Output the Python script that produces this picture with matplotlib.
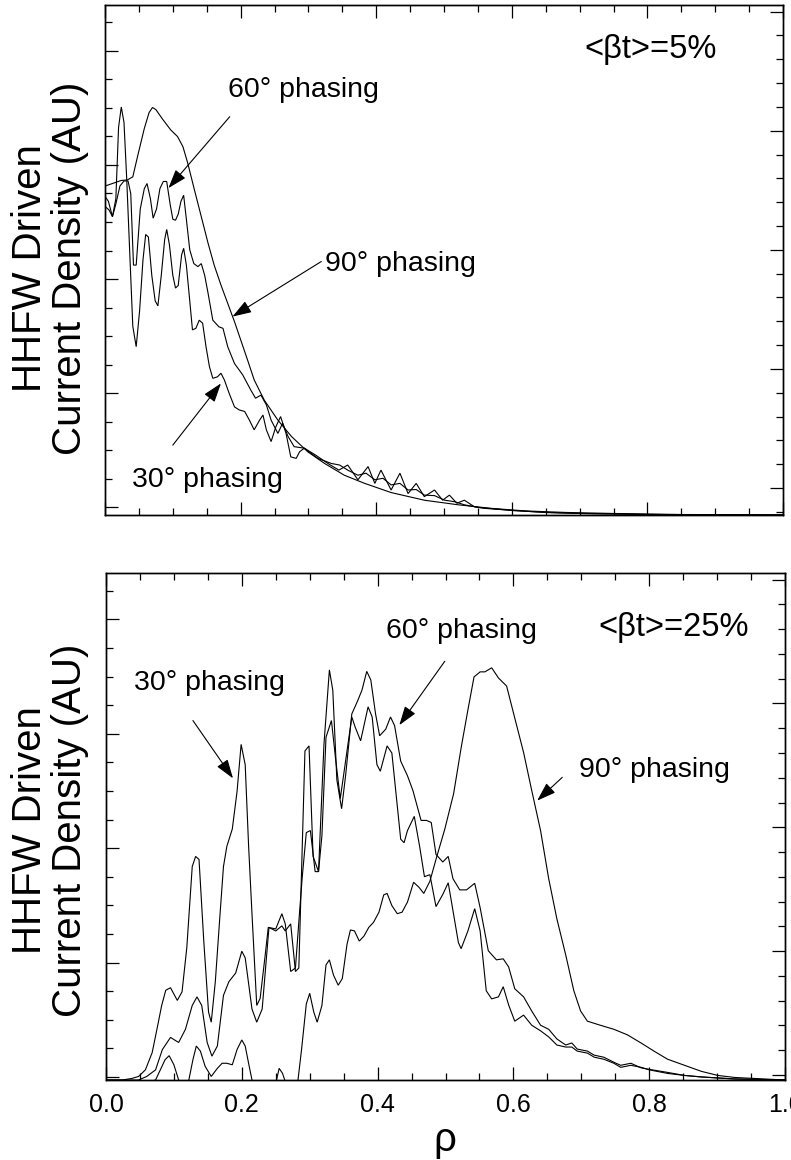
import matplotlib
matplotlib.use('Agg')
import matplotlib.pyplot as plt
import numpy as np

plt.rcParams['font.family'] = ['Liberation Sans', 'DejaVu Sans']

# ---------------- data (arbitrary units) ----------------
# Top panel  <beta_t> = 5%
top_rho_90 = [0.0, 0.011, 0.024, 0.033, 0.041, 0.048, 0.058, 0.065, 0.070, 0.075, 0.085, 0.097, 0.107, 0.115,
              0.122, 0.132, 0.142, 0.152, 0.161, 0.171, 0.181, 0.191, 0.201, 0.211, 0.220, 0.235, 0.255, 0.275,
              0.299, 0.324, 0.353, 0.383, 0.422, 0.471, 0.521, 0.570, 0.62, 0.68, 0.75, 0.85, 1.0]
top_j_90 = [0.645, 0.65, 0.656, 0.657, 0.663, 0.703, 0.758, 0.789, 0.799, 0.795, 0.776, 0.755, 0.742, 0.722,
            0.69, 0.637, 0.585, 0.533, 0.49, 0.451, 0.415, 0.379, 0.34, 0.301, 0.265, 0.225, 0.186, 0.154,
            0.124, 0.101, 0.078, 0.062, 0.044, 0.029, 0.02, 0.013, 0.008, 0.005, 0.003, 0.001, 0.0]

top_rho_60 = [0.0, 0.005, 0.011, 0.016, 0.022, 0.028, 0.034, 0.038, 0.042, 0.046,
              0.052, 0.058, 0.062, 0.067, 0.071, 0.076, 0.081, 0.086, 0.091, 0.096,
              0.100, 0.104, 0.108, 0.112, 0.116, 0.120, 0.125, 0.131, 0.137, 0.142,
              0.147, 0.152, 0.159, 0.168, 0.174, 0.181, 0.191, 0.203, 0.215, 0.222,
              0.230, 0.238, 0.245, 0.255, 0.262, 0.270, 0.279, 0.294, 0.314, 0.334,
              0.346, 0.358, 0.373, 0.385, 0.398, 0.410, 0.422, 0.435, 0.447, 0.459,
              0.471, 0.486, 0.501, 0.516, 0.530, 0.550, 0.60, 0.65, 0.70, 0.80, 1.0]
top_j_60 = [0.625, 0.615, 0.585, 0.61, 0.645, 0.655, 0.655, 0.63, 0.49, 0.49,
            0.60, 0.64, 0.65, 0.62, 0.582, 0.60, 0.64, 0.654, 0.654, 0.61,
            0.58, 0.578, 0.59, 0.615, 0.627, 0.58, 0.52, 0.493, 0.487, 0.493,
            0.47, 0.435, 0.382, 0.369, 0.366, 0.33, 0.297, 0.275, 0.245, 0.229,
            0.235, 0.216, 0.186, 0.16, 0.18, 0.154, 0.134, 0.131, 0.111, 0.101,
            0.098, 0.088, 0.078, 0.082, 0.069, 0.072, 0.059, 0.062, 0.049, 0.05,
            0.039, 0.038, 0.029, 0.026, 0.02, 0.015, 0.009, 0.005, 0.003, 0.001, 0.0]

top_rho_30 = [0.0, 0.006, 0.011, 0.016, 0.020, 0.024, 0.028, 0.032, 0.036, 0.041,
              0.046, 0.051, 0.056, 0.060, 0.064, 0.069, 0.074, 0.078, 0.083, 0.088,
              0.091, 0.095, 0.100, 0.104, 0.108, 0.113, 0.116, 0.120, 0.125, 0.129,
              0.134, 0.139, 0.144, 0.149, 0.154, 0.159, 0.166, 0.171, 0.176, 0.183,
              0.191, 0.198, 0.206, 0.213, 0.220, 0.228, 0.233, 0.238, 0.245, 0.252,
              0.259, 0.267, 0.274, 0.282, 0.287, 0.294, 0.310, 0.330, 0.345, 0.358,
              0.373, 0.388, 0.398, 0.407, 0.422, 0.435, 0.447, 0.459, 0.471, 0.486,
              0.498, 0.508, 0.519, 0.530, 0.545, 0.56, 0.60, 0.65, 0.70, 0.80, 1.0]
top_j_30 = [0.605, 0.598, 0.585, 0.62, 0.76, 0.80, 0.77, 0.66, 0.53, 0.37,
            0.33, 0.40, 0.50, 0.55, 0.545, 0.47, 0.42, 0.41, 0.47, 0.54,
            0.56, 0.53, 0.47, 0.445, 0.45, 0.51, 0.523, 0.49, 0.42, 0.363,
            0.366, 0.382, 0.376, 0.33, 0.291, 0.268, 0.271, 0.278, 0.265, 0.239,
            0.212, 0.206, 0.203, 0.186, 0.167, 0.186, 0.196, 0.167, 0.144, 0.173,
            0.193, 0.16, 0.114, 0.111, 0.124, 0.131, 0.118, 0.100, 0.088, 0.098,
            0.069, 0.095, 0.062, 0.088, 0.049, 0.082, 0.042, 0.062, 0.036, 0.049,
            0.029, 0.039, 0.023, 0.029, 0.016, 0.013, 0.009, 0.005, 0.003, 0.001, 0.0]

# Bottom panel  <beta_t> = 25%
bot_rho_90 = [0.0, 0.05, 0.073, 0.080, 0.087, 0.093, 0.100, 0.107, 0.114, 0.122,
              0.128, 0.133, 0.139, 0.146, 0.155, 0.164, 0.171, 0.178, 0.186, 0.193,
              0.200, 0.205, 0.210, 0.215, 0.222, 0.240, 0.250, 0.255, 0.260, 0.265,
              0.274, 0.281, 0.288, 0.295, 0.300, 0.306, 0.311, 0.318, 0.324, 0.329,
              0.335, 0.342, 0.348, 0.355, 0.360, 0.366, 0.373, 0.380, 0.387, 0.394,
              0.402, 0.409, 0.414, 0.421, 0.429, 0.436, 0.444, 0.453, 0.461, 0.468,
              0.477, 0.487, 0.499, 0.512, 0.523, 0.533, 0.542, 0.551, 0.558, 0.568,
              0.578, 0.590, 0.602, 0.615, 0.627, 0.640, 0.652, 0.664, 0.677, 0.689,
              0.699, 0.709, 0.728, 0.748, 0.768, 0.788, 0.807, 0.827, 0.852, 0.877,
              0.901, 0.926, 1.0]
bot_j_90 = [-0.03, -0.01, 0.0, 0.02, 0.04, 0.048, 0.03, 0.0, -0.02, 0.0,
            0.04, 0.067, 0.057, 0.027, 0.007, 0.023, 0.033, 0.033, 0.03, 0.06,
            0.079, 0.067, 0.033, 0.0, -0.033, -0.03, -0.007, 0.023, 0.013, -0.007,
            -0.04, -0.02, 0.06, 0.15, 0.171, 0.134, 0.114, 0.147, 0.227, 0.237,
            0.207, 0.187, 0.2, 0.268, 0.296, 0.294, 0.274, 0.284, 0.301, 0.311,
            0.331, 0.365, 0.368, 0.344, 0.328, 0.331, 0.351, 0.39, 0.38, 0.368,
            0.392, 0.44, 0.495, 0.565, 0.655, 0.73, 0.795, 0.805, 0.805, 0.813,
            0.793, 0.777, 0.714, 0.646, 0.571, 0.492, 0.397, 0.318, 0.247, 0.176,
            0.136, 0.116, 0.108, 0.100, 0.089, 0.073, 0.057, 0.041, 0.029, 0.017,
            0.009, 0.005, 0.0]

bot_rho_60 = [0.0, 0.030, 0.048, 0.060, 0.073, 0.083, 0.095, 0.107, 0.117, 0.127,
              0.134, 0.141, 0.149, 0.156, 0.164, 0.173, 0.181, 0.191, 0.200, 0.205,
              0.215, 0.222, 0.230, 0.240, 0.250, 0.259, 0.264, 0.272, 0.279, 0.284,
              0.293, 0.299, 0.305, 0.313, 0.321, 0.329, 0.334, 0.340, 0.347, 0.353,
              0.362, 0.370, 0.377, 0.384, 0.390, 0.397, 0.403, 0.412, 0.419, 0.425,
              0.434, 0.444, 0.452, 0.464, 0.472, 0.479, 0.486, 0.496, 0.504, 0.511,
              0.521, 0.531, 0.543, 0.551, 0.563, 0.575, 0.585, 0.593, 0.602, 0.615,
              0.627, 0.640, 0.652, 0.664, 0.677, 0.686, 0.694, 0.709, 0.719, 0.733,
              0.748, 0.758, 0.773, 0.788, 0.800, 0.827, 0.852, 0.877, 0.926, 1.0]
bot_j_60 = [0.0, 0.0, 0.0, 0.007, 0.02, 0.06, 0.084, 0.074, 0.10, 0.147,
            0.164, 0.147, 0.074, 0.047, 0.067, 0.167, 0.194, 0.211, 0.254, 0.241,
            0.14, 0.114, 0.14, 0.301, 0.294, 0.304, 0.294, 0.308, 0.214, 0.221,
            0.649, 0.659, 0.441, 0.411, 0.662, 0.809, 0.769, 0.592, 0.535, 0.602,
            0.722, 0.746, 0.769, 0.806, 0.789, 0.722, 0.679, 0.692, 0.716, 0.699,
            0.629, 0.60, 0.571, 0.512, 0.512, 0.508, 0.445, 0.43, 0.441, 0.397,
            0.375, 0.375, 0.388, 0.34, 0.255, 0.237, 0.239, 0.223, 0.18, 0.164,
            0.136, 0.108, 0.10, 0.081, 0.069, 0.073, 0.061, 0.057, 0.049, 0.045,
            0.035, 0.029, 0.033, 0.024, 0.021, 0.015, 0.009, 0.006, 0.002, 0.0]

bot_rho_30 = [0.0, 0.024, 0.038, 0.048, 0.058, 0.068, 0.075, 0.082, 0.088, 0.095,
              0.105, 0.112, 0.119, 0.127, 0.132, 0.137, 0.144, 0.151, 0.155, 0.161,
              0.168, 0.173, 0.178, 0.186, 0.193, 0.199, 0.205, 0.210, 0.215, 0.222,
              0.227, 0.234, 0.239, 0.250, 0.259, 0.264, 0.272, 0.279, 0.285, 0.289,
              0.295, 0.301, 0.308, 0.313, 0.318, 0.324, 0.332, 0.338, 0.345, 0.350,
              0.362, 0.367, 0.375, 0.386, 0.392, 0.399, 0.404, 0.414, 0.421, 0.434,
              0.439, 0.444, 0.454, 0.462, 0.469, 0.477, 0.486, 0.496, 0.504, 0.511,
              0.519, 0.523, 0.533, 0.543, 0.551, 0.560, 0.568, 0.578, 0.585, 0.593,
              0.602, 0.615, 0.627, 0.640, 0.652, 0.664, 0.677, 0.686, 0.694, 0.709,
              0.719, 0.733, 0.748, 0.758, 0.773, 0.788, 0.800, 0.827, 0.852, 0.877,
              0.926, 1.0]
bot_j_30 = [0.0, 0.0, 0.003, 0.007, 0.02, 0.054, 0.10, 0.147, 0.177, 0.182,
            0.157, 0.174, 0.261, 0.421, 0.441, 0.435, 0.274, 0.134, 0.114, 0.194,
            0.328, 0.421, 0.461, 0.495, 0.569, 0.662, 0.622, 0.462, 0.328, 0.147,
            0.161, 0.241, 0.301, 0.298, 0.328, 0.308, 0.214, 0.221, 0.33, 0.40,
            0.488, 0.492, 0.411, 0.411, 0.482, 0.676, 0.709, 0.635, 0.555, 0.602,
            0.716, 0.696, 0.669, 0.736, 0.716, 0.622, 0.609, 0.659, 0.645, 0.475,
            0.468, 0.492, 0.52, 0.46, 0.401, 0.405, 0.342, 0.366, 0.389, 0.334,
            0.271, 0.259, 0.294, 0.338, 0.294, 0.176, 0.16, 0.164, 0.184, 0.148,
            0.116, 0.128, 0.108, 0.097, 0.085, 0.069, 0.065, 0.065, 0.057, 0.053,
            0.045, 0.041, 0.033, 0.025, 0.029, 0.025, 0.02, 0.013, 0.009, 0.006,
            0.002, 0.0]

x_tick_values = [0.0, 0.2, 0.4, 0.6, 0.8, 1.0]
x_tick_labels = ['0.0', '0.2', '0.4', '0.6', '0.8', '1.0']
ylabel_text = 'HHFW Driven\nCurrent Density (AU)'
top_beta_label = '<βt>=5%'
bot_beta_label = '<βt>=25%'

# ---------------- figure ----------------
W, H = 791, 1160
fig = plt.figure(figsize=(W / 100, H / 100), dpi=100)
ax_top = fig.add_axes([105 / W, 1 - 515 / H, 678 / W, 510 / H])
ax_bot = fig.add_axes([106 / W, 1 - 1080 / H, 679 / W, 507 / H])

LW = 0.8
for ax, curves in ((ax_top, [(top_rho_90, top_j_90), (top_rho_60, top_j_60), (top_rho_30, top_j_30)]),
                   (ax_bot, [(bot_rho_90, bot_j_90), (bot_rho_60, bot_j_60), (bot_rho_30, bot_j_30)])):
    for r, j in curves:
        ax.plot(r, j, color='black', lw=LW, solid_joinstyle='miter')
    ax.set_xlim(0, 1)
    ax.set_ylim(0, 1)
    for s in ax.spines.values():
        s.set_linewidth(1.0)
        s.set_color('black')


def set_ticks(ax, lmaj0, lstep, lmin_n, rmaj0, rstep, rmin_n, show_labels):
    ax.set_xticks(x_tick_values)
    ax.set_xticks(np.arange(0, 1.0001, 0.05), minor=True)
    if show_labels:
        ax.set_xticklabels(x_tick_labels)
    else:
        ax.set_xticklabels([])
    lmin = [lmaj0 + lstep * k for k in range(lmin_n)]
    lmaj = [v for k, v in enumerate(lmin) if k % 4 == 0]
    ax.set_yticks(lmaj)
    ax.set_yticks([v for k, v in enumerate(lmin) if k % 4 != 0], minor=True)
    ax.set_yticklabels([])
    ax.tick_params(which='both', direction='in', top=True, bottom=True, left=True, right=False,
                   width=0.9, color='black', labelsize=18, pad=9)
    ax.tick_params(which='major', length=9.5)
    ax.tick_params(which='minor', length=5)
    ax2 = ax.twinx()
    ax2.set_ylim(0, 1)
    rmin = [rmaj0 + rstep * k for k in range(-1, rmin_n)]
    rmin = [v for v in rmin if 0 < v < 1]
    rmaj = [rmaj0 + rstep * 5 * k for k in range(5)]
    ax2.set_yticks(rmaj)
    ax2.set_yticks([v for v in rmin if min(abs(v - m) for m in rmaj) > 1e-3], minor=True)
    ax2.set_yticklabels([])
    ax2.tick_params(which='both', direction='in', right=True, left=False, width=0.9, color='black')
    ax2.tick_params(which='major', length=9.5)
    ax2.tick_params(which='minor', length=5)
    for s in ax2.spines.values():
        s.set_linewidth(1.0)


set_ticks(ax_top, 0.0155, 0.0559, 18, 0.053, 0.0467, 21, False)
set_ticks(ax_bot, 0.006, 0.0564, 18, 0.0098, 0.04886, 21, True)

# ---------------- annotations ----------------
FS = 20.5
FS_BETA = 23.5
ARROW = dict(arrowstyle='-|>,head_length=0.65,head_width=0.22', color='black', lw=0.8,
             mutation_scale=18, shrinkA=0, shrinkB=0)


def label(ax, text, x, y, start, tip):
    ax.text(x, y, text, fontsize=FS, ha='left', va='center')
    ax.annotate('', xy=tip, xytext=start, arrowprops=ARROW)


label(ax_top, '60° phasing', 0.182, 0.833, (0.184, 0.781), (0.0935, 0.641))
label(ax_top, '90° phasing', 0.324, 0.493, (0.319, 0.497), (0.188, 0.389))
label(ax_top, '30° phasing', 0.040, 0.069, (0.100, 0.137), (0.171, 0.258))
ax_top.text(0.903, 0.912, top_beta_label, fontsize=FS_BETA, ha='right', va='center')

label(ax_bot, '30° phasing', 0.041, 0.783, (0.128, 0.709), (0.187, 0.595))
label(ax_bot, '60° phasing', 0.412, 0.885, (0.499, 0.826), (0.432, 0.700))
label(ax_bot, '90° phasing', 0.697, 0.611, (0.672, 0.597), (0.635, 0.551))
ax_bot.text(0.947, 0.892, bot_beta_label, fontsize=FS_BETA, ha='right', va='center')

# axis titles
fig.text(50 / W, 1 - 268 / H, ylabel_text, rotation=90, fontsize=29, ha='center', va='center',
         multialignment='center', linespacing=1.05)
fig.text(50 / W, 1 - 830 / H, ylabel_text, rotation=90, fontsize=29, ha='center', va='center',
         multialignment='center', linespacing=1.05)
fig.text(445 / W, 1 - 1140 / H, 'ρ', fontsize=29, ha='center', va='center')

fig.savefig('out.png', dpi=100)
